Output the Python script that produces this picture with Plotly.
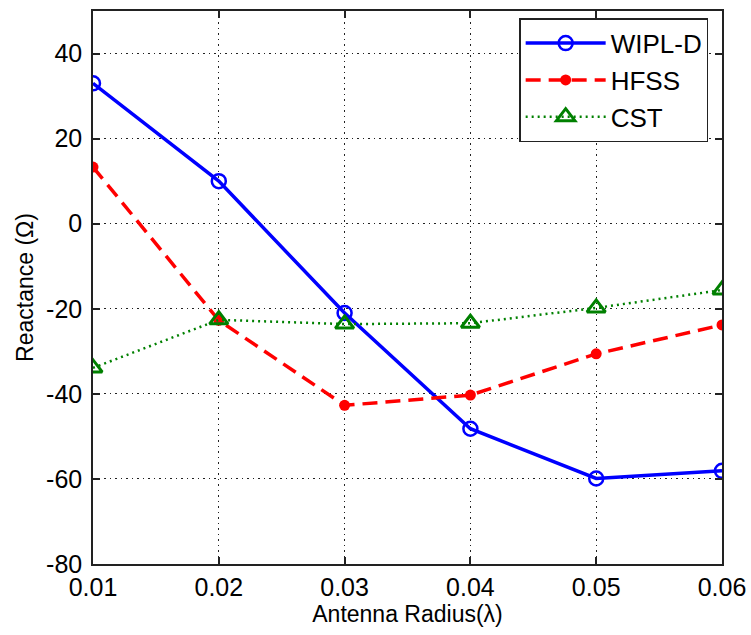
import plotly.graph_objects as go

radius = [0.01, 0.02, 0.03, 0.04, 0.05, 0.06]
wipl_d = [33, 10, -21, -48.2, -59.9, -58.1]
hfss = [13.3, -22.7, -42.7, -40.3, -30.6, -23.8]
cst = [-33.9, -22.6, -23.6, -23.4, -19.8, -15.6]

x_ticks = [0.01, 0.02, 0.03, 0.04, 0.05, 0.06]
x_tick_text = ["0.01", "0.02", "0.03", "0.04", "0.05", "0.06"]
y_ticks = [-80, -60, -40, -20, 0, 20, 40]
y_tick_text = ["-80", "-60", "-40", "-20", "0", "20", "40"]

FONT = "Liberation Sans, Arial, Helvetica"

fig = go.Figure()
fig.add_trace(go.Scatter(
    x=radius, y=wipl_d, name="WIPL-D", mode="lines+markers",
    line=dict(color="#0000ff", width=3.5, dash="solid"),
    marker=dict(symbol="circle-open", size=14, color="#0000ff", line=dict(width=2.5)),
))
fig.add_trace(go.Scatter(
    x=radius, y=hfss, name="HFSS", mode="lines+markers",
    line=dict(color="#ff0000", width=3.5, dash="15px,8px"),
    marker=dict(symbol="circle", size=11, color="#ff0000"),
))
fig.add_trace(go.Scatter(
    x=radius, y=cst, name="CST", mode="lines+markers",
    line=dict(color="#008000", width=2.5, dash="2px,4px"),
    marker=dict(symbol="triangle-up-open", size=16, color="#008000", line=dict(width=3)),
))

axis_common = dict(
    showline=True, linecolor="#222222", linewidth=1.5, mirror="ticks",
    ticks="inside", ticklen=7, tickcolor="#222222", tickwidth=1.5,
    showgrid=True, gridcolor="#222222", gridwidth=1.2, griddash="1.5px,4px",
    zeroline=False, automargin=False,
    tickfont=dict(family=FONT, size=25, color="black"),
)

fig.update_xaxes(
    range=[0.01, 0.06], tickvals=x_ticks, ticktext=x_tick_text,
    ticklabelstandoff=0,
    title=dict(text="Antenna Radius(λ)", standoff=2,
               font=dict(family=FONT, size=23, color="black")),
    **axis_common,
)
fig.update_yaxes(
    range=[-80, 50], tickvals=y_ticks, ticktext=y_tick_text,
    ticklabelstandoff=4,
    title=dict(text="Reactance (Ω)", standoff=6,
               font=dict(family=FONT, size=23, color="black")),
    **axis_common,
)

fig.update_layout(
    width=751, height=635,
    margin=dict(l=93, r=29, t=11, b=71),
    plot_bgcolor="white", paper_bgcolor="white",
    showlegend=True,
    legend=dict(
        x=0.978, y=0.987, xanchor="right", yanchor="top",
        bgcolor="white", bordercolor="#222222", borderwidth=1.5,
        font=dict(family=FONT, size=26, color="black"),
        itemwidth=80, tracegroupgap=0,
    ),
)

fig.write_html("out.html")
